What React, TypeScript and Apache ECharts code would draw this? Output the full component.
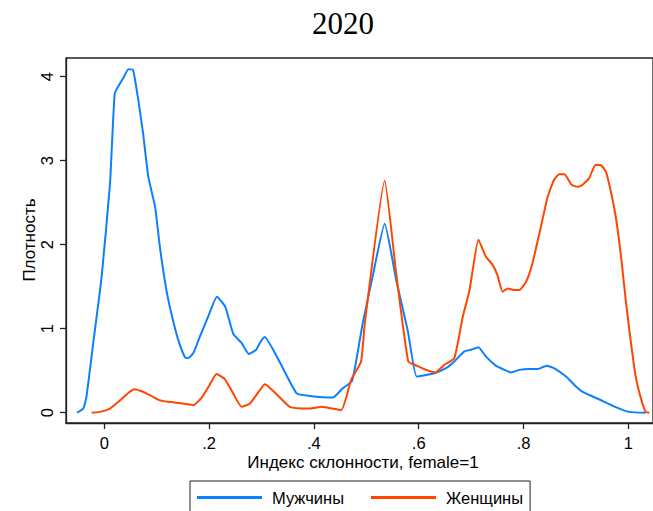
import React, { useEffect, useRef } from "react";
import * as echarts from "echarts";

const title = "2020";
const yAxisTitle = "Плотность";
const xAxisTitle = "Индекс склонности, female=1";
const seriesNames = ["Мужчины", "Женщины"];
const xTicks = [0, 0.2, 0.4, 0.6, 0.8, 1];
const xTickLabels = ["0", ".2", ".4", ".6", ".8", "1"];
const yTicks = [0, 1, 2, 3, 4];

const menX = [-0.052, -0.040, -0.034, -0.021, -0.005, 0.011, 0.020, 0.030, 0.036, 0.046, 0.055, 0.065, 0.074, 0.084, 0.097, 0.106, 0.118, 0.128, 0.141, 0.154, 0.160, 0.170, 0.182, 0.198, 0.215, 0.231, 0.246, 0.262, 0.276, 0.290, 0.297, 0.306, 0.335, 0.367, 0.392, 0.436, 0.455, 0.473, 0.493, 0.512, 0.535, 0.557, 0.579, 0.596, 0.614, 0.630, 0.652, 0.668, 0.687, 0.700, 0.714, 0.728, 0.747, 0.760, 0.776, 0.792, 0.811, 0.827, 0.844, 0.858, 0.881, 0.897, 0.912, 0.944, 0.975, 1.001, 1.033];
const menY = [0, 0.05, 0.19, 0.83, 1.62, 2.73, 3.80, 3.92, 3.98, 4.09, 4.08, 3.72, 3.33, 2.81, 2.45, 1.98, 1.48, 1.18, 0.87, 0.66, 0.65, 0.71, 0.90, 1.14, 1.38, 1.26, 0.94, 0.83, 0.70, 0.75, 0.83, 0.90, 0.60, 0.23, 0.20, 0.18, 0.29, 0.38, 1.06, 1.62, 2.25, 1.58, 0.98, 0.43, 0.45, 0.47, 0.53, 0.61, 0.73, 0.75, 0.78, 0.67, 0.56, 0.52, 0.48, 0.51, 0.52, 0.52, 0.56, 0.53, 0.43, 0.33, 0.25, 0.16, 0.07, 0.01, 0.0];

const womenX = [-0.024, -0.008, 0.011, 0.027, 0.043, 0.057, 0.074, 0.090, 0.105, 0.122, 0.150, 0.170, 0.186, 0.201, 0.214, 0.230, 0.246, 0.262, 0.278, 0.297, 0.306, 0.354, 0.392, 0.415, 0.452, 0.471, 0.490, 0.497, 0.535, 0.557, 0.580, 0.596, 0.614, 0.632, 0.649, 0.668, 0.684, 0.697, 0.714, 0.728, 0.741, 0.750, 0.760, 0.770, 0.782, 0.792, 0.805, 0.817, 0.833, 0.846, 0.858, 0.868, 0.878, 0.884, 0.892, 0.903, 0.912, 0.925, 0.937, 0.947, 0.957, 0.966, 0.976, 0.986, 0.995, 1.005, 1.014, 1.024, 1.033, 1.040];
const womenY = [0, 0.01, 0.05, 0.13, 0.22, 0.28, 0.25, 0.20, 0.15, 0.13, 0.11, 0.09, 0.18, 0.33, 0.46, 0.40, 0.23, 0.07, 0.11, 0.27, 0.34, 0.07, 0.05, 0.07, 0.03, 0.39, 0.61, 1.06, 2.76, 1.66, 0.61, 0.56, 0.51, 0.48, 0.57, 0.65, 1.14, 1.46, 2.06, 1.86, 1.76, 1.64, 1.44, 1.48, 1.46, 1.46, 1.56, 1.78, 2.21, 2.57, 2.77, 2.84, 2.84, 2.79, 2.71, 2.69, 2.71, 2.79, 2.95, 2.95, 2.87, 2.65, 2.33, 1.86, 1.34, 0.83, 0.43, 0.17, 0.01, 0];

const BLUE = "#0a80ff";
const ORANGE = "#ff4500";
const SANS = "'Liberation Sans', Arial, sans-serif";

export default function App() {
  const ref = useRef<HTMLDivElement>(null);
  useEffect(() => {
    document.body.style.margin = "0";
    if (!ref.current) return;
    const chart = echarts.init(ref.current, null, { renderer: "svg" });
    const zip = (xs: number[], ys: number[]) => xs.map((x, i) => [x, ys[i]]);
    chart.setOption({
      animation: false,
      backgroundColor: "#ffffff",
      title: {
        text: title,
        left: 338,
        top: 3,
        textAlign: "center",
        textStyle: { fontFamily: "'Liberation Serif', 'Times New Roman', serif", fontSize: 31, fontWeight: "normal", color: "#000" },
      },
      grid: {
        left: 66,
        top: 58,
        width: 588,
        height: 365,
        show: true,
        borderColor: "#222",
        borderWidth: 1.3,
        containLabel: false,
      },
      xAxis: {
        type: "value",
        min: -0.073,
        max: 1.047,
        splitLine: { show: false },
        axisLine: { show: true, onZero: false, lineStyle: { color: "#222", width: 1.3 } },
        axisTick: { show: true, length: 6, customValues: xTicks, lineStyle: { color: "#222", width: 1.3 } },
        axisLabel: {
          customValues: xTicks,
          formatter: (v: number) => xTickLabels[xTicks.findIndex((t) => Math.abs(t - v) < 1e-9)] ?? "",
          margin: 11,
          fontFamily: SANS,
          fontSize: 16.5,
          color: "#000",
        },
      },
      yAxis: {
        type: "value",
        min: -0.1226,
        max: 4.2226,
        splitLine: { show: false },
        axisLine: { show: true, onZero: false, lineStyle: { color: "#222", width: 1.3 } },
        axisTick: { show: true, length: 6, customValues: yTicks, lineStyle: { color: "#222", width: 1.3 } },
        axisLabel: {
          customValues: yTicks,
          rotate: 90,
          margin: 11,
          fontFamily: SANS,
          fontSize: 16.5,
          color: "#000",
        },
      },
      legend: {
        left: 190,
        top: 481,
        orient: "horizontal",
        icon: "rect",
        itemWidth: 65,
        itemHeight: 3,
        itemGap: 27,
        padding: [8, 7, 10, 7],
        borderColor: "#222",
        borderWidth: 1,
        textStyle: { fontFamily: SANS, fontSize: 16.5, color: "#000", padding: [0, 0, 0, 5] },
        data: seriesNames,
      },
      graphic: [
        {
          type: "text",
          x: 363,
          y: 462,
          style: { text: xAxisTitle, fontFamily: SANS, fontSize: 17, fill: "#000", align: "center", verticalAlign: "middle" },
        },
        {
          type: "text",
          x: 29,
          y: 240,
          rotation: Math.PI / 2,
          style: { text: yAxisTitle, fontFamily: SANS, fontSize: 17, fill: "#000", align: "center", verticalAlign: "middle" },
        },
      ],
      series: [
        {
          name: seriesNames[0],
          type: "line",
          data: zip(menX, menY),
          showSymbol: false,
          symbol: "none",
          smooth: 0.15,
          lineStyle: { color: BLUE, width: 2 },
          itemStyle: { color: BLUE },
        },
        {
          name: seriesNames[1],
          type: "line",
          data: zip(womenX, womenY),
          showSymbol: false,
          symbol: "none",
          smooth: 0.15,
          lineStyle: { color: ORANGE, width: 2 },
          itemStyle: { color: ORANGE },
        },
      ],
    });
    return () => chart.dispose();
  }, []);
  return <div ref={ref} style={{ width: 653, height: 511 }} />;
}
